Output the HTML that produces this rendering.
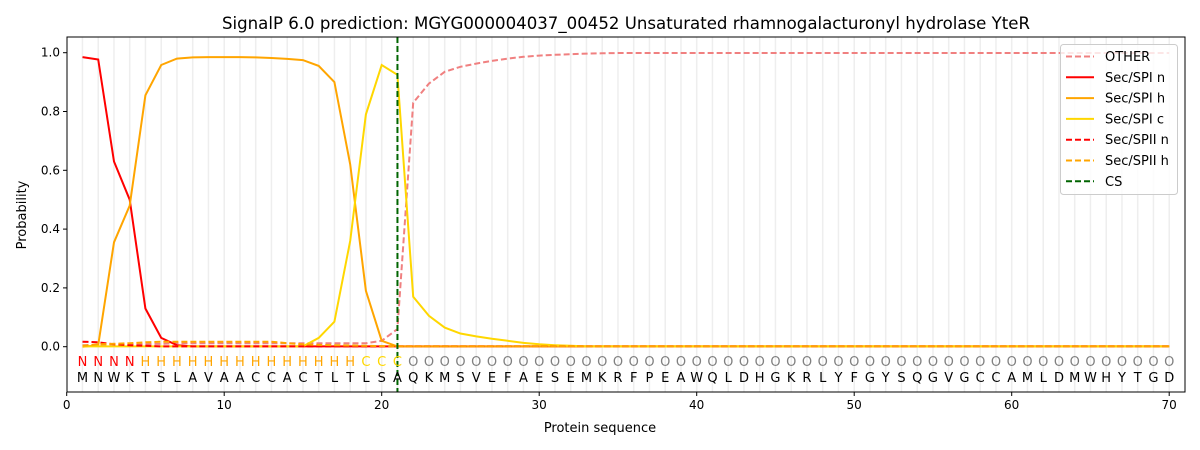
<!DOCTYPE html>
<html><head><meta charset="utf-8"><style>body{margin:0;background:#fff}svg{display:block}text{font-family:"DejaVu Sans","Liberation Sans",sans-serif}</style></head>
<body><svg id="s" width="1200" height="450" xmlns="http://www.w3.org/2000/svg"></svg>
<script>
const s=document.getElementById('s');let h='';
const X=i=>66.7+15.75*i, Y=v=>346.7-294*v;
const L=67,R=1185,T=37,B=392;
for(let i=1;i<=70;i++)h+=`<line x1="${X(i)}" y1="${T}" x2="${X(i)}" y2="${B}" stroke="#eeeeee" stroke-width="1.5"/>`;
function arr(m,def){const a=[];for(let i=1;i<=70;i++)a.push(m[i]!==undefined?m[i]:def(i));return a;}
const n=arr({1:.985,2:.977,3:.63,4:.5,5:.13,6:.03,7:.005},()=>0.001);
const hh=arr({1:0,2:.005,3:.355,4:.48,5:.855,6:.958,7:.98,8:.984,9:.985,10:.985,11:.985,12:.984,13:.982,14:.979,15:.975,16:.955,17:.9,18:.62,19:.19,20:.02,21:.001},()=>0.001);
const c=arr({16:.03,17:.085,18:.36,19:.79,20:.958,21:.925,22:.17,23:.105,24:.065,25:.045,26:.035,27:.027,28:.02,29:.013,30:.008,31:.005,32:.003},()=>0.001);
const o=arr({1:.005,2:.006,3:.007,4:.008,5:.009,6:.01,20:.02,21:.06,22:.83,23:.895,24:.935,25:.952,26:.963,27:.972,28:.98,29:.986,30:.99,31:.993,32:.995,33:.997,34:.998},i=>i<20?.012:.999);
const n2=arr({1:.017,2:.015,3:.008,4:.005,5:.003},()=>0.001);
const h2=arr({1:.003,2:.008,3:.01,4:.012,5:.015,14:.012,15:.008,16:.006,17:.005,18:.004,19:.003,20:.002},i=>i<14?.017:0.001);
function pl(a,col,dash){return `<polyline fill="none" stroke="${col}" stroke-width="2" ${dash?'stroke-dasharray="6,3"':''} points="${a.map((v,i)=>X(i+1).toFixed(1)+','+Y(v).toFixed(1)).join(' ')}"/>`;}
h+=pl(o,'#f08080',1)+pl(n,'#ff0000')+pl(hh,'#ffa500')+pl(c,'#ffd700')+pl(n2,'#ff0000',1)+pl(h2,'#ffa500',1);
h+=`<line x1="${X(21)}" y1="${T}" x2="${X(21)}" y2="${B}" stroke="#006400" stroke-width="2" stroke-dasharray="6,3"/>`;
const seq="MNWKTSLAVAACCACTLTLSAQKMSVEFAESEMKRFPEAWQLDHGKRLYFGYSQGVGCCAMLDMWHYTGD";
for(let i=1;i<=70;i++){let lab,col;if(i<=4){lab='N';col='#ff0000'}else if(i<=18){lab='H';col='#ffa500'}else if(i<=21){lab='C';col='#ffd700'}else{lab='O';col='#808080'}
h+=`<text x="${X(i)}" y="366" font-size="13" fill="${col}" text-anchor="middle">${lab}</text><text x="${X(i)}" y="382" font-size="13" fill="#000" text-anchor="middle">${seq[i-1]}</text>`;}
h+=`<rect x="${L}" y="${T}" width="${R-L}" height="${B-T}" fill="none" stroke="#000" stroke-width="1"/>`;
for(let t=0;t<=70;t+=10)h+=`<line x1="${X(t)}" y1="${B}" x2="${X(t)}" y2="${B+4}" stroke="#000"/><text x="${X(t)}" y="${B+17}" font-size="12" text-anchor="middle">${t}</text>`;
for(let k=0;k<=5;k++){const v=k*0.2,y=Y(v);h+=`<line x1="${L-4}" y1="${y}" x2="${L}" y2="${y}" stroke="#000"/><text x="${L-7}" y="${y+4}" font-size="12" text-anchor="end">${v.toFixed(1)}</text>`;}
h+=`<text x="600" y="432" font-size="13" text-anchor="middle">Protein sequence</text>`;
h+=`<text x="26" y="215" font-size="13" text-anchor="middle" transform="rotate(-90 26 215)">Probability</text>`;
h+=`<text x="626" y="29" font-size="16.6" text-anchor="middle">SignalP 6.0 prediction: MGYG000004037_00452 Unsaturated rhamnogalacturonyl hydrolase YteR</text>`;
h+=`<rect x="1060.5" y="44.5" width="117" height="150" rx="3" fill="#fff" fill-opacity="0.8" stroke="#ccc"/>`;
const lg=[['OTHER','#f08080',1],['Sec/SPI n','#ff0000',0],['Sec/SPI h','#ffa500',0],['Sec/SPI c','#ffd700',0],['Sec/SPII n','#ff0000',1],['Sec/SPII h','#ffa500',1],['CS','#006400',1]];
lg.forEach((e,k)=>{const y=56.5+k*20.8;h+=`<line x1="1066" y1="${y}" x2="1094" y2="${y}" stroke="${e[1]}" stroke-width="2" ${e[2]?'stroke-dasharray="6,3"':''}/><text x="1105" y="${y+4.5}" font-size="13">${e[0]}</text>`;});
s.innerHTML=h;
</script></body></html>
